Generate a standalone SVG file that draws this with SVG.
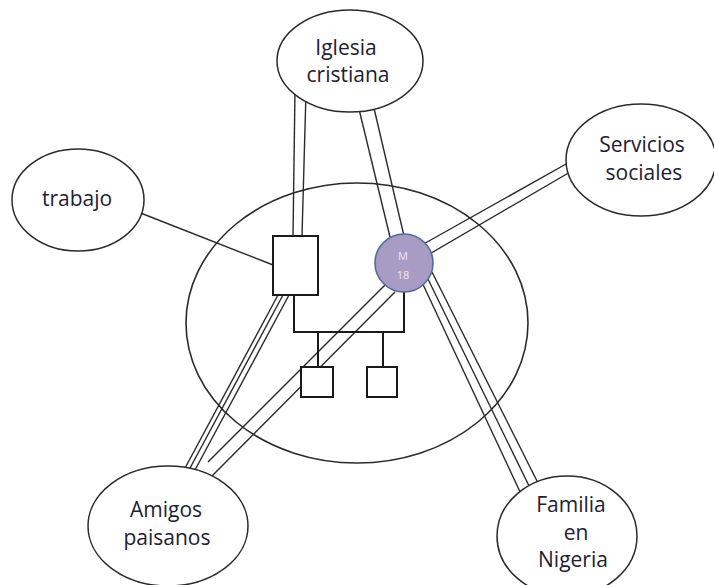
<svg xmlns="http://www.w3.org/2000/svg" width="714" height="585" viewBox="0 0 714 585">
  <style>
    .node { fill: #ffffff; stroke: #2a2a2a; stroke-width: 1.5; }
    .hh { fill: none; stroke: #2a2a2a; stroke-width: 1.6; }
    .link { stroke: #2a2a2a; stroke-width: 1.4; fill: none; }
    .box { fill: #ffffff; stroke: #1a1a1a; stroke-width: 2; }
    .gen { fill: none; stroke: #1a1a1a; stroke-width: 2; }
    .lbl { font-family: "Open Sans", "Liberation Sans", sans-serif; font-size: 21px; fill: #1e2033; text-anchor: middle; }
    .ego { font-family: "Open Sans", "Liberation Sans", sans-serif; font-size: 11px; fill: #f3e6f3; text-anchor: middle; }
  </style>
  <rect width="714" height="585" fill="#ffffff"/>

  <!-- household boundary -->
  <ellipse id="household" class="hh" cx="357" cy="323" rx="171" ry="140"/>

  <g id="connectors">
    <!-- trabajo to father -->
    <line class="link" x1="138" y1="212" x2="273" y2="265"/>
    <!-- Iglesia cristiana to father (double) -->
    <line class="link" x1="295" y1="90" x2="293" y2="236"/>
    <line class="link" x1="306" y1="92" x2="302" y2="236"/>
    <!-- Iglesia cristiana to M (double) -->
    <line class="link" x1="358" y1="105" x2="390" y2="237"/>
    <line class="link" x1="373" y1="104" x2="404" y2="236"/>
    <!-- Servicios sociales to M (double) -->
    <line class="link" x1="575" y1="159" x2="420" y2="246"/>
    <line class="link" x1="577" y1="168" x2="426" y2="256"/>
    <!-- M to Familia en Nigeria (triple) -->
    <line class="link" x1="420" y1="278" x2="522" y2="496"/>
    <line class="link" x1="426" y1="275" x2="531" y2="490"/>
    <line class="link" x1="432" y1="272" x2="539" y2="485"/>
    <!-- father to Amigos paisanos (triple) -->
    <line class="link" x1="278" y1="295" x2="184" y2="470"/>
    <line class="link" x1="283" y1="295" x2="189" y2="470"/>
    <line class="link" x1="289" y1="295" x2="195" y2="470"/>
    <!-- M to Amigos paisanos (double) -->
    <line class="link" x1="388" y1="282" x2="208" y2="462"/>
    <line class="link" x1="395" y1="292" x2="210" y2="478"/>
  </g>

  <!-- family unit -->
  <g id="family-lines">
    <polyline class="gen" points="294,295 294,332 404,332 404,290"/>
    <line class="gen" x1="318" y1="332" x2="318" y2="367"/>
    <line class="gen" x1="383" y1="332" x2="383" y2="367"/>
  </g>
  <g id="father">
    <rect class="box" x="273" y="236" width="45" height="59"/>
  </g>
  <g id="ego">
    <circle cx="404" cy="263" r="29" fill="#a89bc4" stroke="#4f6c9e" stroke-width="1.6"/>
    <text class="ego" x="403" y="260">M</text>
    <text class="ego" x="403" y="279">18</text>
  </g>
  <g id="child-1">
    <rect class="box" x="301" y="367" width="32" height="30"/>
  </g>
  <g id="child-2">
    <rect class="box" x="367" y="367" width="30" height="30"/>
  </g>

  <g id="iglesia">
    <ellipse class="node" cx="350" cy="61" rx="73" ry="51"/>
    <text class="lbl" x="346" y="55">Iglesia</text>
    <text class="lbl" x="348" y="82">cristiana</text>
  </g>
  <g id="trabajo">
    <ellipse class="node" cx="78" cy="200" rx="66" ry="51"/>
    <text class="lbl" x="77" y="206">trabajo</text>
  </g>
  <g id="servicios">
    <ellipse class="node" cx="641" cy="160" rx="75" ry="56"/>
    <text class="lbl" x="642" y="152">Servicios</text>
    <text class="lbl" x="644" y="180">sociales</text>
  </g>
  <g id="amigos">
    <ellipse class="node" cx="168" cy="526" rx="80" ry="60"/>
    <text class="lbl" x="166" y="517">Amigos</text>
    <text class="lbl" x="167" y="545">paisanos</text>
  </g>
  <g id="familia">
    <ellipse class="node" cx="567" cy="536" rx="70" ry="60"/>
    <text class="lbl" x="571" y="512">Familia</text>
    <text class="lbl" x="576" y="540">en</text>
    <text class="lbl" x="573" y="567">Nigeria</text>
  </g>
</svg>
